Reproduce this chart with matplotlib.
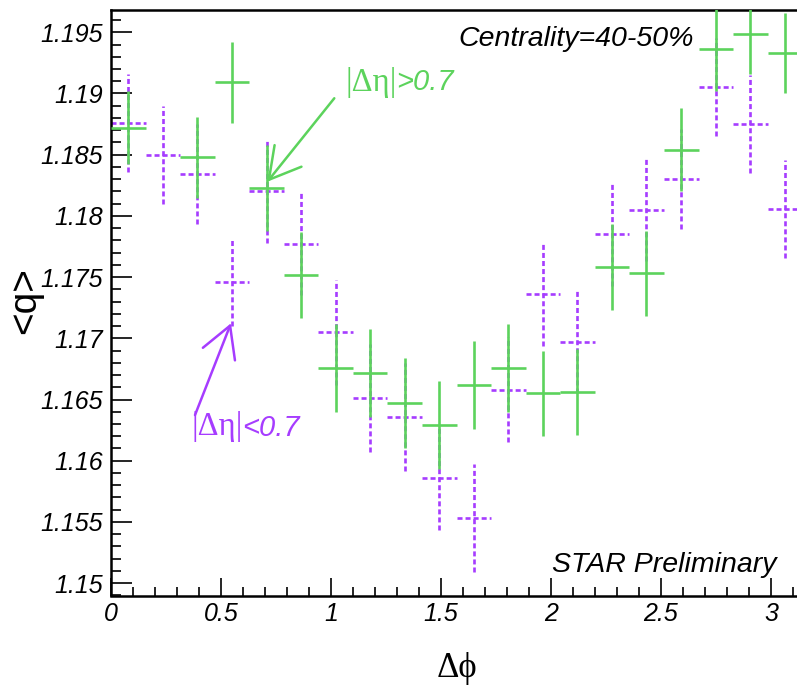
import numpy as np
import matplotlib
matplotlib.use("Agg")
import matplotlib.pyplot as plt
from matplotlib.ticker import MultipleLocator, FormatStrFormatter
from matplotlib.offsetbox import TextArea, HPacker, AnnotationBbox

# ---------------- data ----------------
dphi = [0.079, 0.236, 0.393, 0.550, 0.707, 0.864, 1.021, 1.178, 1.335, 1.492,
        1.649, 1.806, 1.963, 2.120, 2.277, 2.434, 2.592, 2.749, 2.906, 3.063]
bin_half = 0.0785

# |d eta| > 0.7 (green, solid)
q_large = [1.1872, np.nan, 1.1848, 1.1909, 1.1823, 1.1752, 1.1676, 1.1672, 1.1647, 1.1629,
           1.1662, 1.1676, 1.1655, 1.1656, 1.1758, 1.1753, 1.1854, 1.1936, 1.1949, 1.1933]
e_large = [0.0030, np.nan, 0.0033, 0.0033, 0.0035, 0.0035, 0.0036, 0.0036, 0.0037, 0.0036,
           0.0036, 0.0036, 0.0035, 0.0035, 0.0035, 0.0035, 0.0034, 0.0034, 0.0033, 0.0033]

# |d eta| < 0.7 (purple, dashed)
q_small = [1.1876, 1.1850, 1.1834, 1.1746, 1.1820, 1.1777, 1.1705, 1.1651, 1.1636, 1.1586,
           1.1553, 1.1658, 1.1736, 1.1697, 1.1785, 1.1805, 1.1830, 1.1905, 1.1875, 1.1806]
e_small = [0.0040, 0.0040, 0.0041, 0.0036, 0.0042, 0.0042, 0.0043, 0.0044, 0.0044, 0.0043,
           0.0044, 0.0043, 0.0042, 0.0042, 0.0042, 0.0042, 0.0041, 0.0040, 0.0040, 0.0040]

green = '#5CD35C'
purple = '#A63CFF'

W, H = 797, 686
fig = plt.figure(figsize=(W / 100, H / 100), dpi=100)
ax = fig.add_axes([111 / W, (H - 595.5) / H, (W - 111) / W, (595.5 - 10) / H])

ax.set_xlim(0, (W - 111) / 220.0)
ax.set_ylim(1.14899, 1.19682)

# purple first (green drawn on top)
eb_s = ax.errorbar(dphi, q_small, xerr=bin_half, yerr=e_small, fmt='none',
                   ecolor=purple, elinewidth=1.9, capsize=0, zorder=2)
for lc in eb_s[2]:
    lc.set_linestyle((0, (1.9, 1.15)))
eb_l = ax.errorbar(dphi, q_large, xerr=bin_half, yerr=e_large, fmt='none',
                   ecolor=green, elinewidth=1.9, capsize=0, zorder=3)

# axes styling
ax.spines['right'].set_visible(False)
for s in ['left', 'bottom', 'top']:
    ax.spines[s].set_linewidth(1.8)

ax.xaxis.set_major_locator(MultipleLocator(0.5))
ax.xaxis.set_minor_locator(MultipleLocator(0.1))
ax.yaxis.set_major_locator(MultipleLocator(0.005))
ax.yaxis.set_minor_locator(MultipleLocator(0.001))
ax.xaxis.set_major_formatter(FormatStrFormatter('%g'))
ax.yaxis.set_major_formatter(FormatStrFormatter('%g'))
ax.tick_params(axis='x', which='major', direction='in', length=12.7, width=1.2, pad=5,
               top=False)
ax.tick_params(axis='x', which='minor', direction='in', length=6.7, width=1.2, top=False)
ax.tick_params(axis='y', which='major', direction='in', length=15, width=1.2, pad=6,
               right=False)
ax.tick_params(axis='y', which='minor', direction='in', length=7.5, width=1.2, right=False)
for lab in ax.get_xticklabels() + ax.get_yticklabels():
    lab.set_fontfamily('Liberation Sans')
    lab.set_fontstyle('italic')
    lab.set_fontsize(18)

# axis titles
fig.text(25 / W, (H - 301) / H, '<q>', rotation=90, ha='center', va='center',
         family='Liberation Sans', fontsize=28)
fig.text(457 / W, (H - 677) / H, 'Δϕ', ha='center', va='baseline',
         family=['Liberation Serif', 'DejaVu Serif'], fontsize=25)

# annotations
fig.text(458 / W, (H - 46.5) / H, 'Centrality=40-50%', ha='left', va='baseline',
         family='Liberation Sans', style='italic', fontsize=20.5)
fig.text(551.7 / W, (H - 571.5) / H, 'STAR Preliminary', ha='left', va='baseline',
         family='Liberation Sans', style='italic', fontsize=20.5)


def label(col, sign, xy_px):
    t1 = TextArea('|Δη|', textprops=dict(family='Liberation Serif', fontsize=23.5,
                                          color=col))
    t2 = TextArea(sign + '0.7', textprops=dict(family='Liberation Sans', style='italic',
                                                fontsize=21, color=col))
    pk = HPacker(children=[t1, t2], align='baseline', pad=0, sep=0)
    ab = AnnotationBbox(pk, (xy_px[0], H - xy_px[1]), xycoords='figure pixels',
                        box_alignment=(0, 0.5), frameon=False, pad=0)
    fig.add_artist(ab)


label(green, '>', (345, 82))
label(purple, '<', (191, 427))

arrow_kw = dict(arrowstyle='->, head_length=2.2, head_width=1.24', lw=1.8,
                shrinkA=0, shrinkB=0, mutation_scale=10)
ax.annotate('', xy=(0.7105, 1.18279), xytext=(1.015, 1.18961),
            arrowprops=dict(color=green, **arrow_kw), annotation_clip=False)
ax.annotate('', xy=(0.5455, 1.17123), xytext=(0.3818, 1.16373),
            arrowprops=dict(color=purple, **arrow_kw), annotation_clip=False)

fig.savefig('out.png', dpi=100)
